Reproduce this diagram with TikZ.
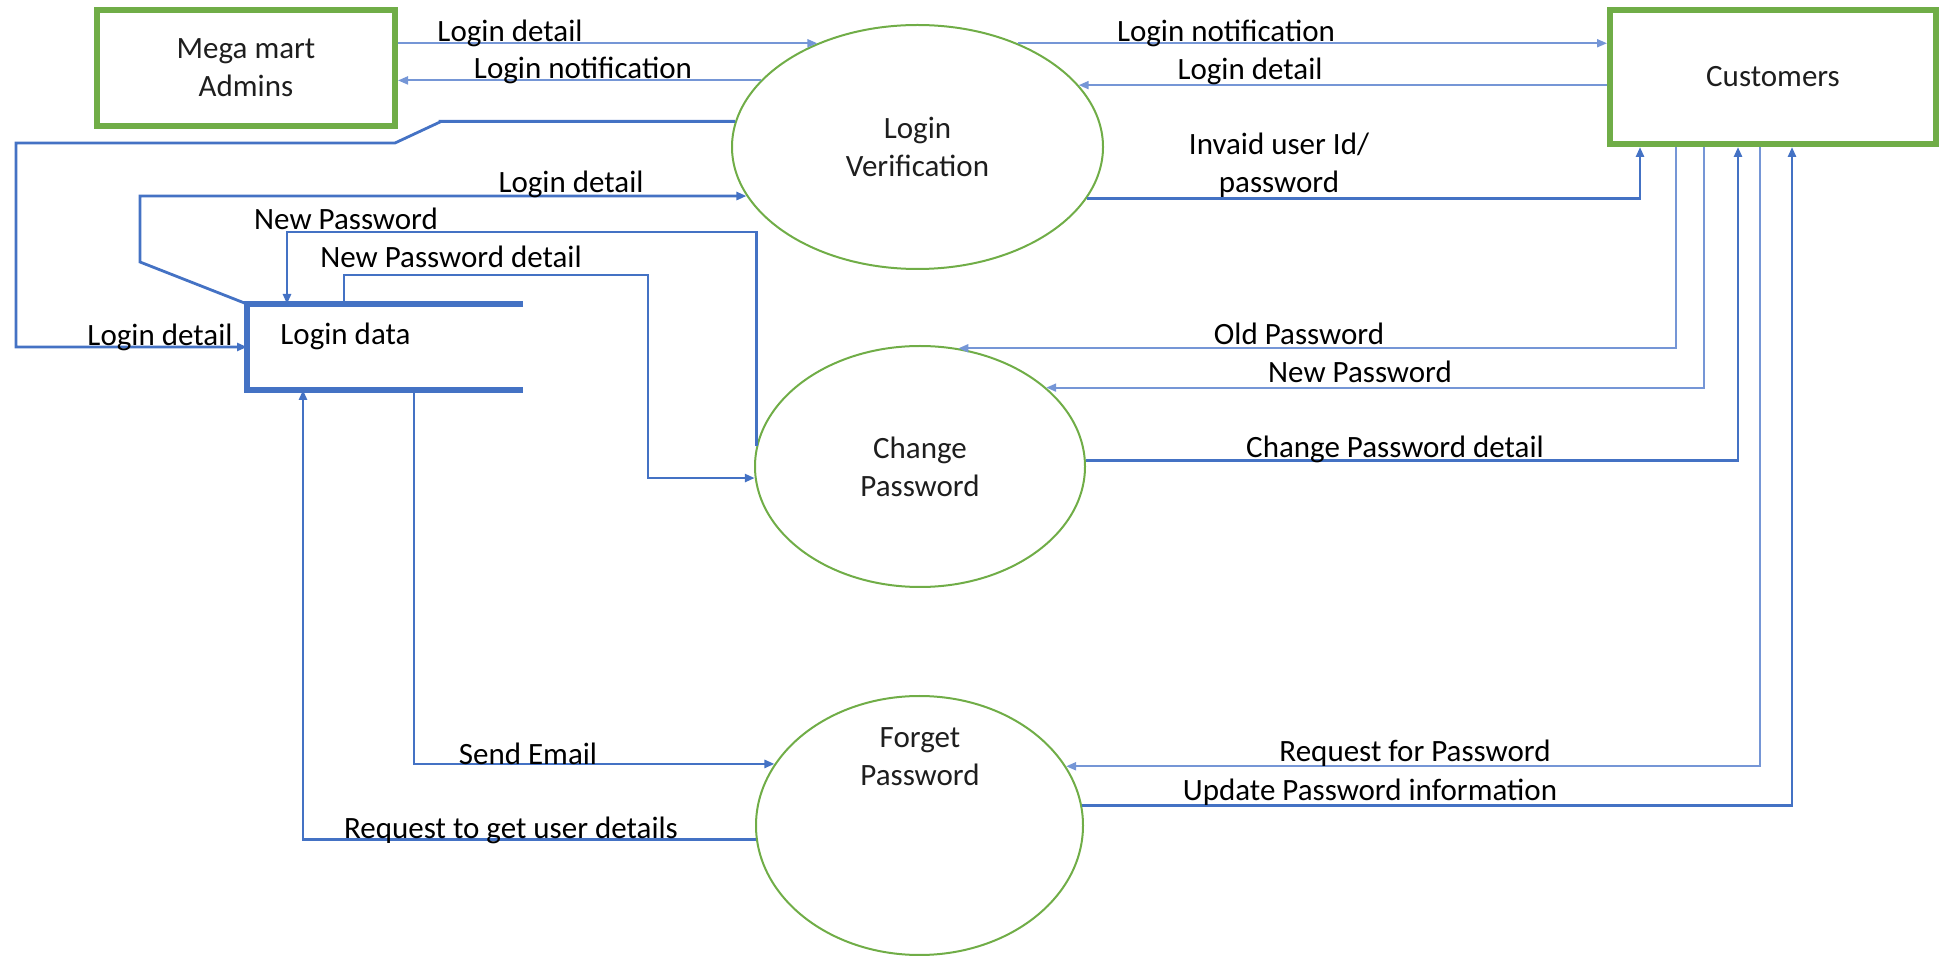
\documentclass[tikz,border=0pt]{standalone}
\usepackage{fontspec}
\setmainfont{Carlito}
\usetikzlibrary{arrows.meta,shapes.geometric}
\definecolor{boxgreen}{HTML}{70AD47}
\definecolor{flowblue}{HTML}{4472C4}
\definecolor{flowlight}{HTML}{7596D6}
\definecolor{nodetext}{HTML}{1E1E1E}
\begin{document}
\begin{tikzpicture}[x=0.5pt,y=-0.5pt,
  every node/.style={font=\fontsize{15.5}{19}\selectfont},
  entity/.style={draw=boxgreen, line width=3pt, rectangle, align=center, text=nodetext, inner sep=0pt},
  process/.style={draw=boxgreen, line width=1pt, ellipse, align=center, text=nodetext, inner sep=0pt},
  flow/.style={draw=flowblue, line width=1.4pt, -{Triangle[length=5pt,width=4pt]}},
  flowl/.style={draw=flowlight, line width=1pt, -{Triangle[length=5pt,width=4pt]}},
  storeline/.style={draw=flowblue, line width=3pt},
  lbl/.style={anchor=base, inner sep=0pt, text=black},
]
\useasboundingbox (0,0) rectangle (1939,956);

% external entities
\node[entity, minimum width=149pt, minimum height=58pt] (admin) at (246,68) {Mega mart\\Admins};
\node[entity, minimum width=163pt, minimum height=67pt] (cust) at (1773,77) {Customers};

% processes
\node[process, minimum width=185.5pt, minimum height=122pt] (lv) at (917.5,147) {Login\\Verification};
\node[process, minimum width=165pt, minimum height=120.5pt] (cp) at (920,466.5) {Change\\Password};
\node[process, minimum width=163.5pt, minimum height=129.5pt] (fp) at (919.5,825.5) {};
\node[align=center, text=nodetext, inner sep=0pt] (fptext) at (920,757) {Forget\\Password};

% data store
\node[rectangle, outer sep=0pt, inner sep=0pt, minimum width=138pt, minimum height=43pt] (store) at (385,347) {};
\draw[storeline] (store.north east) -- (store.north west) -- (store.south west) -- (store.south east);
\node[anchor=base west, inner sep=0pt] (storetext) at (280,345) {Login data};

% column coordinates
\coordinate (cNP) at (287,0);
\coordinate (cNPD) at (344,0);
\coordinate (cSE) at (414,0);
\coordinate (cRU) at (303,0);
\coordinate (cInv) at (1640,0);
\coordinate (cOld) at (1676,0);
\coordinate (cNew) at (1704,0);
\coordinate (cCPD) at (1738,0);
\coordinate (cReq) at (1760,0);
\coordinate (cUpd) at (1792,0);

% admin <-> login verification
\draw[flowl] (admin.east |- lv.134) -- (lv.134);
\draw[flowl] (lv.157.5) -- (admin.east |- lv.157.5);
% login verification -> login data
\draw[flow] (lv.172.2) -| (440,122) -- (395,143) -- (16,143) |- (store.west);
% login data -> login verification
\draw[flow] (store.north west) -- (140,262) |- (lv.196.5);
% change password -> login data (new password)
\draw[flow] (cp.173.5) |- (287,232) -- (store.north -| cNP);
% login data -> change password (new password detail)
\draw[flow] (store.north -| cNPD) |- (648,275) |- (cp.184.4);
% login data -> forget password
\draw[flow] (store.south -| cSE) |- (fp.157.7);
% forget password -> login data
\draw[flow] (fp.185.1) -| (store.south -| cRU);

% login verification <-> customers
\draw[flowl] (lv.46) -- (cust.west |- lv.46);
\draw[flowl] (cust.west |- lv.21.6) -- (lv.21.6);
\draw[flow] (lv.343.2) -| (cust.south -| cInv);
% customers <-> change password
\draw[flowl] (cust.south -| cOld) |- (cp.72.7);
\draw[flowl] (cust.south -| cNew) |- (cp.32.7);
\draw[flow] (cp.2.3) -| (cust.south -| cCPD);
% customers <-> forget password
\draw[flowl] (cust.south -| cReq) |- (fp.22.3);
\draw[flow] (fp.7.6) -| (cust.south -| cUpd);

% labels
\node[lbl] (l1) at (510,42) {Login detail};
\node[lbl] (l2) at (583,79) {Login notification};
\node[lbl] (l3) at (1226,42) {Login notification};
\node[lbl] (l4) at (1250,80) {Login detail};
\node[lbl, align=center] (l5) at (1279,193) {Invaid user Id/\\password};
\node[lbl] (l6) at (571,193) {Login detail};
\node[lbl] (l7) at (346,230) {New Password};
\node[lbl] (l8) at (451,268) {New Password detail};
\node[lbl] (l9) at (160,346) {Login detail};
\node[lbl] (l10) at (1299,345) {Old Password};
\node[lbl] (l11) at (1360,383) {New Password};
\node[lbl] (l12) at (1395,458) {Change Password detail};
\node[lbl] (l13) at (1415,762) {Request for Password};
\node[lbl] (l14) at (1370,800) {Update Password information};
\node[lbl] (l15) at (528,764) {Send Email};
\node[lbl] (l16) at (511,838) {Request to get user details};
\end{tikzpicture}
\end{document}
